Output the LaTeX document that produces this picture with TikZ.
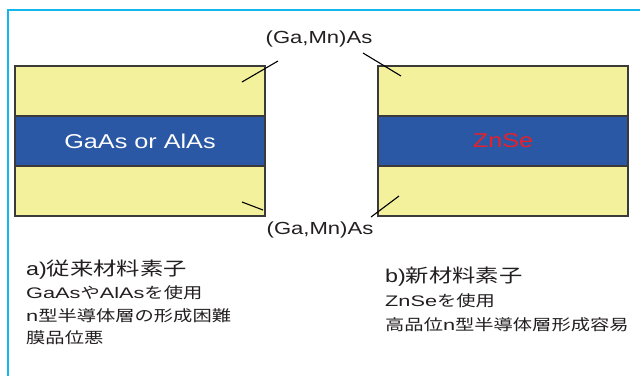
\documentclass[tikz,border=0pt]{standalone}
\usepackage{fontspec}
\setmainfont{Liberation Sans}[FakeStretch=1.26]
\newfontfamily\jp{Noto Sans CJK JP}[FakeStretch=1.26]
\newfontfamily\latw{Liberation Sans}[FakeStretch=1.42]
\definecolor{framecyan}{HTML}{12B8EC}
\definecolor{film}{HTML}{F4F19C}
\definecolor{barrier}{HTML}{2A58A5}
\definecolor{edgegray}{HTML}{3A3A3A}
\definecolor{inktext}{HTML}{231F20}
\definecolor{znred}{HTML}{E8202A}
\begin{document}
\begin{tikzpicture}[x=1pt,y=-1pt,
  layer/.style={draw=edgegray, line width=1.3pt, minimum width=250pt,
    minimum height=50pt, inner sep=0pt, outer sep=0pt},
  leader/.style={line width=1.1pt, black},
  gmlabel/.style={inner sep=0pt, text=inktext, font=\fontsize{17.5}{20}\selectfont},
  caption/.style={inner sep=0pt, anchor=base west, text=inktext,
    font=\fontsize{15.3}{18}\selectfont\latw},
  heading/.style={inner sep=0pt, anchor=base west, text=inktext,
    font=\fontsize{18.5}{22}\selectfont}]
\useasboundingbox (0,0) rectangle (640,376);
\fill[white] (0,0) rectangle (640,376);
\draw[framecyan, line width=2.7pt] (8,376) -- (8,10) -- (640,10);

% conventional device: (Ga,Mn)As / GaAs or AlAs / (Ga,Mn)As
\node[layer, fill=film]    (aTop) at (140,91)  {};
\node[layer, fill=barrier] (aMid) at (140,141) {};
\node[layer, fill=film]    (aBot) at (140,191) {};
\node[white, inner sep=0pt, font=\fontsize{20}{24}\selectfont] (aMidText) at (aMid) {GaAs or AlAs};

% new device: (Ga,Mn)As / ZnSe / (Ga,Mn)As
\node[layer, fill=film]    (bTop) at (503,91)  {};
\node[layer, fill=barrier] (bMid) at (503,141) {};
\node[layer, fill=film]    (bBot) at (503,191) {};
\node[znred, inner sep=0pt, font=\fontsize{20}{24}\selectfont] (bMidText) at (bMid) {ZnSe};

% magnetic layer labels and leaders
\node[gmlabel] (gmTop) at (319,39) {(Ga,Mn)As};
\node[gmlabel] (gmBot) at (320,230) {(Ga,Mn)As};

\coordinate (la1) at (278,61);
\coordinate (la2) at (242,82);
\coordinate (lb1) at (363,53);
\coordinate (lb2) at (401,76);
\coordinate (lc1) at (242,202);
\coordinate (lc2) at (263,210);
\coordinate (ld1) at (371,217);
\coordinate (ld2) at (399,196);
\draw[leader] (la1) -- (la2);
\draw[leader] (lb1) -- (lb2);
\draw[leader] (lc1) -- (lc2);
\draw[leader] (ld1) -- (ld2);

% captions
\node[heading] (capA)  at (26,275) {a){\jp 従来材料素子}};
\node[caption] (capA1) at (26,298) {GaAs{\jp や}AlAs{\jp を使用}};
\node[caption] (capA2) at (26,321) {n{\jp 型半導体層の形成困難}};
\node[caption] (capA3) at (26,343) {{\jp 膜品位悪}};

\node[heading] (capB)  at (385,282) {b){\jp 新材料素子}};
\node[caption] (capB1) at (385,306) {ZnSe{\jp を使用}};
\node[caption] (capB2) at (385,330) {{\jp 高品位}n{\jp 型半導体層形成容易}};
\end{tikzpicture}
\end{document}
